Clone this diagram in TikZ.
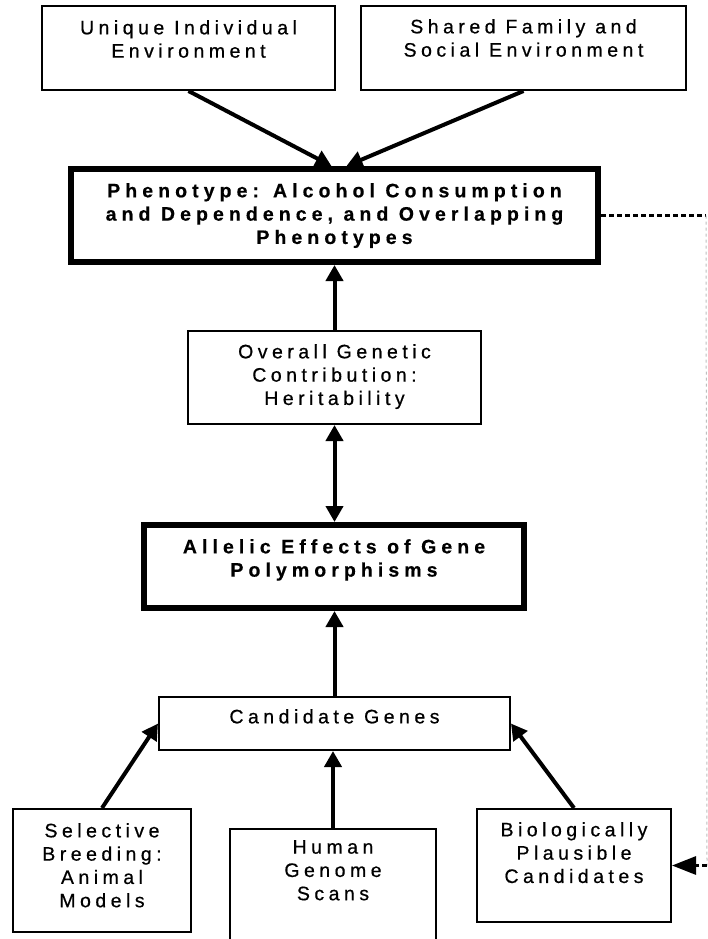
\documentclass[tikz,border=0pt]{standalone}
\usepackage{fontspec}
\setmainfont{Liberation Sans}
\newfontfamily\diagfont[LetterSpace=23,FakeBold=0.6]{Liberation Sans}
\newfontfamily\heavyfont[LetterSpace=26,FakeBold=0.4]{Liberation Sans Bold}
\usetikzlibrary{arrows.meta,calc}

\begin{document}
\begin{tikzpicture}[x=1pt,y=-1pt,
  box/.style={draw, line width=2pt, inner sep=0pt},
  heavybox/.style={draw, line width=6pt, inner sep=0pt},
  lbl/.style={font=\fontsize{19.5}{23.3}\selectfont\diagfont, align=center, inner sep=0pt, anchor=north},
  heavylbl/.style={font=\fontsize{19.5}{23.3}\selectfont\heavyfont, align=center, inner sep=0pt, anchor=north},
  link/.style={line width=4pt, -{Triangle[width=17pt,length=16pt]}},
  twoway/.style={line width=4pt, {Triangle[width=17pt,length=16pt]}-{Triangle[width=17pt,length=16pt]}},
  feedback/.style={line width=3pt, dash pattern=on 5pt off 3pt}
]
\fill[white] (0,0) rectangle (708,939);
\useasboundingbox (0,0) rectangle (708,939);

% ---- boxes (centre, size) ----
\node[box, minimum width=293, minimum height=84] (unique) at (188.5,48) {};
\node[box, minimum width=325, minimum height=84] (shared) at (523.5,48) {};
\node[heavybox, minimum width=527, minimum height=93] (pheno) at (334.5,215.5) {};
\node[box, minimum width=293, minimum height=93] (overall) at (334.5,377.5) {};
\node[heavybox, minimum width=380, minimum height=83] (allelic) at (334,566.5) {};
\node[box, minimum width=351, minimum height=53] (candidate) at (334.5,723.5) {};
\node[box, minimum width=178, minimum height=123] (selective) at (102,870.5) {};
\node[box, minimum width=206, minimum height=140] (human) at (333,899) {};
\node[box, minimum width=194, minimum height=113] (bio) at (574,865.5) {};

% ---- texts ----
\node[lbl] (unique-t) at (188.5,20) {Unique Individual\\Environment};
\node[lbl] (shared-t) at (523.5,19) {Shared Family and\\Social Environment};
\node[heavylbl] (pheno-t) at (334.5,183) {Phenotype: Alcohol Consumption\\and Dependence, and Overlapping\\Phenotypes};
\node[lbl] (overall-t) at (334.5,344) {Overall Genetic\\Contribution:\\Heritability};
\node[heavylbl] (allelic-t) at (334,539) {Allelic Effects of Gene\\Polymorphisms};
\node[lbl] (candidate-t) at (334.5,709) {Candidate Genes};
\node[lbl] (selective-t) at (102,823) {Selective\\Breeding:\\Animal\\Models};
\node[lbl] (human-t) at (333,840) {Human\\Genome\\Scans};
\node[lbl] (bio-t) at (574,822) {Biologically\\Plausible\\Candidates};

% ---- connectors ----
\draw[link] (unique.south) -- ($(pheno.north)+(-3,0)$);
\draw[link] (shared.south) -- ($(pheno.north)+(12,0)$);
\draw[link] (overall.north) -- (overall.north |- pheno.south);
\draw[twoway] (overall.south) -- (overall.south |- allelic.north);
\draw[link] (candidate.north) -- (candidate.north |- allelic.south);
\draw[link] (selective.north) -- (candidate.west);
\draw[link] (human.north) -- (human.north |- candidate.south);
\draw[link] (bio.north) -- (candidate.east);

% ---- dotted feedback from the phenotype to the candidates ----
\path (pheno.east) -- ++(105,0) coordinate (rail-top);
\path (bio.east) -- ++(35,0) coordinate (rail-bottom);
\draw[feedback] (pheno.east) -- (rail-top);
\draw[black!25, line width=1pt, dash pattern=on 3pt off 3pt] (rail-top) -- (rail-bottom);
\draw[feedback, -{Triangle[width=18pt,length=24pt]}] (rail-bottom) -- (bio.east);
\end{tikzpicture}
\end{document}
